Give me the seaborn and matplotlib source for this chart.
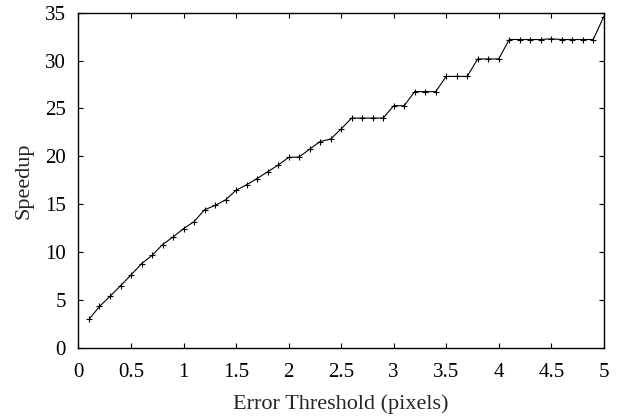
import matplotlib
matplotlib.use("Agg")
import matplotlib.pyplot as plt
import seaborn as sns
import pandas as pd

threshold = [0.1, 0.2, 0.3, 0.4, 0.5, 0.6, 0.7, 0.8, 0.9, 1.0,
             1.1, 1.2, 1.3, 1.4, 1.5, 1.6, 1.7, 1.8, 1.9, 2.0,
             2.1, 2.2, 2.3, 2.4, 2.5, 2.6, 2.7, 2.8, 2.9, 3.0,
             3.1, 3.2, 3.3, 3.4, 3.5, 3.6, 3.7, 3.8, 3.9, 4.0,
             4.1, 4.2, 4.3, 4.4, 4.5, 4.6, 4.7, 4.8, 4.9, 5.0]
speedup = [3.0, 4.34, 5.39, 6.5, 7.62, 8.8, 9.67, 10.79, 11.59, 12.46,
           13.19, 14.43, 14.88, 15.46, 16.47, 17.03, 17.69, 18.39, 19.09, 19.89,
           19.93, 20.76, 21.55, 21.81, 22.86, 24.0, 24.0, 24.0, 24.0, 25.29,
           25.29, 26.76, 26.76, 26.76, 28.35, 28.35, 28.35, 30.17, 30.17, 30.17,
           32.2, 32.2, 32.2, 32.2, 32.27, 32.2, 32.2, 32.2, 32.2, 34.6]
x_ticks = [0, 0.5, 1, 1.5, 2, 2.5, 3, 3.5, 4, 4.5, 5]
x_tick_labels = ["0", "0.5", "1", "1.5", "2", "2.5", "3", "3.5", "4", "4.5", "5"]
y_ticks = [0, 5, 10, 15, 20, 25, 30, 35]

df = pd.DataFrame({"Error Threshold (pixels)": threshold, "Speedup": speedup})

sns.set_style("ticks")
plt.rcParams["font.family"] = ["Liberation Serif", "DejaVu Serif"]

fig = plt.figure(figsize=(6.18, 4.2), dpi=100)
ax = fig.add_axes([0.127, 0.1714, 0.850, 0.7984])

sns.lineplot(data=df, x="Error Threshold (pixels)", y="Speedup", ax=ax,
             color="black", linewidth=0.8, marker="+", markersize=4.5,
             markeredgewidth=0.8, markeredgecolor="black")

ax.set_xlim(0, 5)
ax.set_ylim(0, 35)
ax.set_xticks(x_ticks)
ax.set_xticklabels(x_tick_labels)
ax.set_yticks(y_ticks)
ax.tick_params(direction="in", top=True, right=True, length=3.6, width=0.8,
               labelsize=15, colors="black")
ax.tick_params(axis="x", pad=10.5)
ax.tick_params(axis="y", pad=9)
for s in ax.spines.values():
    s.set_linewidth(1.0)
    s.set_color("black")
ax.set_xlabel("Error Threshold (pixels)", fontsize=16, labelpad=9)
ax.set_ylabel("Speedup", fontsize=16, labelpad=8.5)

fig.savefig("out.png", dpi=100)
